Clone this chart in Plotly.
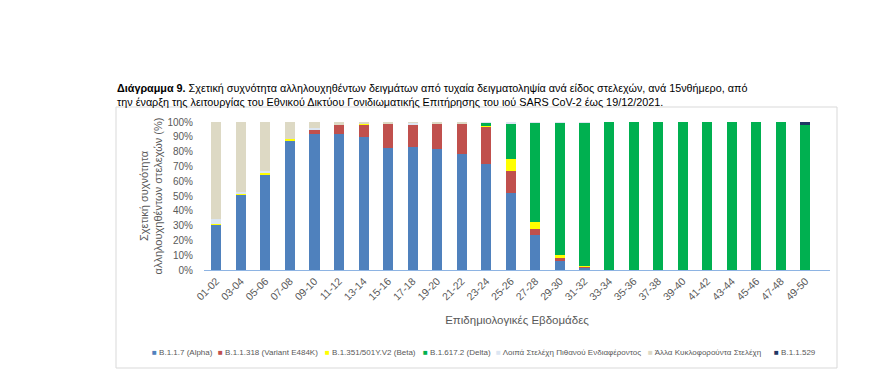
import plotly.graph_objects as go

weeks = ["01-02","03-04","05-06","07-08","09-10","11-12","13-14","15-16","17-18","19-20",
         "21-22","23-24","25-26","27-28","29-30","31-32","33-34","35-36","37-38","39-40",
         "41-42","43-44","45-46","47-48","49-50"]

alpha = [30.6, 50.7, 64.8, 87.7, 92.0, 91.7, 89.7, 82.7, 83.4, 82.0, 78.3, 71.5, 52.0, 23.5, 6.7, 2.0, 0, 0, 0, 0, 0, 0, 0, 0, 0]
e484k = [0, 0, 0, 0, 3.0, 6.3, 8.5, 16.1, 15.2, 17.0, 20.4, 25.3, 14.6, 4.3, 1.3, 0.3, 0, 0, 0, 0, 0, 0, 0, 0, 0]
beta = [0.5, 1.0, 1.3, 1.0, 0.2, 0, 0.3, 0, 0, 0, 0, 0.7, 8.7, 4.9, 2.0, 0.2, 0, 0, 0, 0, 0, 0, 0, 0, 0]
delta = [0, 0, 0, 0, 0, 0, 0, 0, 0, 0, 0, 2.0, 23.8, 66.8, 89.5, 97.3, 100, 100, 100, 100, 100, 100, 100, 100, 97.8]
other_voi = [3.5, 1.0, 1.0, 0, 0.5, 0, 0, 0.2, 1.0, 0, 0.3, 0.5, 0.9, 0.5, 0.5, 0.2, 0, 0, 0, 0, 0, 0, 0, 0, 0]
other_circ = [65.4, 47.3, 32.9, 11.3, 4.3, 2.0, 1.5, 1.0, 0.4, 1.0, 1.0, 0, 0, 0, 0, 0, 0, 0, 0, 0, 0, 0, 0, 0, 0]
omicron = [0, 0, 0, 0, 0, 0, 0, 0, 0, 0, 0, 0, 0, 0, 0, 0, 0, 0, 0, 0, 0, 0, 0, 0, 2.2]

names = ["B.1.1.7 (Alpha)", "B.1.1.318 (Variant E484K)", "B.1.351/501Y.V2 (Beta)",
         "B.1.617.2 (Delta)", "Λοιπά Στελέχη Πιθανού Ενδιαφέροντος",
         "Άλλα Κυκλοφορούντα Στελέχη", "B.1.1.529"]
values = [alpha, e484k, beta, delta, other_voi, other_circ, omicron]
colors = ["#4F81BD", "#C0504D", "#FFFF00", "#00B050", "#DCE6F2", "#DDD9C4", "#1F3864"]

# page offset (body margin) and plot-area geometry in page pixels
OFF = 8
FW, FH = 883 - OFF, 384 - OFF
PL, PR, PT, PB = 204, 830, 122, 270
L, T, W, H = PL - OFF, PT - OFF, PR - PL, PB - PT

def px(x):
    return (x - OFF - L) / W

def py(y):
    return (T + H - (y - OFF)) / H

# legend layout: page x where each legend entry (square + label) starts
LEG_FONT = 8
leg_start = [152, 218, 325, 423, 496, 648, 774]
leg_y = 352
TEXT_GAP = 40  # plotly puts legend text 40px right of the legend origin

fig = go.Figure()
layout_legends = {}
for i, (name, vals, col) in enumerate(zip(names, values, colors)):
    key = "legend" if i == 0 else f"legend{i + 1}"
    fig.add_trace(go.Bar(x=weeks, y=[v / 100 for v in vals], name=name,
                         legendgroup=name, showlegend=False,
                         marker=dict(color=col, line=dict(width=0))))
    # legend entry for the group: coloured square glyph + label
    fig.add_trace(go.Scatter(x=[None], y=[None], mode="lines", legendgroup=name,
                             legend=key, hoverinfo="skip",
                             name=f'<span style="color:{col}">■</span> {name}',
                             line=dict(width=0, color=col)))
    layout_legends[key] = dict(orientation="h", x=px(leg_start[i] - TEXT_GAP), xanchor="left",
                               y=py(leg_y), yanchor="middle", itemwidth=30,
                               font=dict(size=LEG_FONT, color="#595959",
                                         family="Liberation Sans, sans-serif"),
                               bgcolor="rgba(0,0,0,0)", borderwidth=0)

fig.update_layout(
    width=FW, height=FH,
    barmode="stack", bargap=0.59,
    paper_bgcolor="white", plot_bgcolor="white",
    margin=dict(l=L, r=FW - L - W, t=T, b=FH - T - H, autoexpand=False),
    font=dict(family="Liberation Sans, sans-serif", color="#595959"),
    showlegend=True,
    xaxis=dict(type="category", tickangle=-45, tickfont=dict(size=10.5, color="#595959"),
               range=[-0.5, 25.0],
               showline=True, linecolor="#8EB4E3", linewidth=1, ticks="",
               title=dict(text="Επιδημιολογικές Εβδομάδες", font=dict(size=11.5, color="#595959"), standoff=14)),
    yaxis=dict(range=[0, 1], tickformat=".0%", dtick=0.1, showgrid=False, zeroline=False,
               tickfont=dict(size=10, color="#595959"), ticks="", ticklabelstandoff=10,
               title=dict(text="Σχετική συχνότητα<br>αλληλουχηθέντων στελεχών (%)",
                          font=dict(size=11, color="#595959"), standoff=2)),
    **layout_legends,
)

fig.add_shape(type="rect", xref="paper", yref="paper",
              x0=px(116), x1=px(837), y0=py(368), y1=py(107),
              line=dict(color="#D9D9D9", width=1), fillcolor="rgba(0,0,0,0)", layer="below")

fig.add_annotation(xref="paper", yref="paper", x=px(115), y=py(110),
                   xanchor="left", yanchor="bottom", align="left", showarrow=False,
                   text="<b>Διάγραμμα 9.</b> Σχετική συχνότητα αλληλουχηθέντων δειγμάτων από τυχαία δειγματοληψία ανά είδος στελεχών, ανά 15νθήμερο, από<br>την έναρξη της λειτουργίας του Εθνικού Δικτύου Γονιδιωματικής Επιτήρησης του ιού SARS CoV-2 έως 19/12/2021.",
                   font=dict(size=10.8, color="#000000", family="Liberation Sans, sans-serif"))

fig.write_html("out.html")
